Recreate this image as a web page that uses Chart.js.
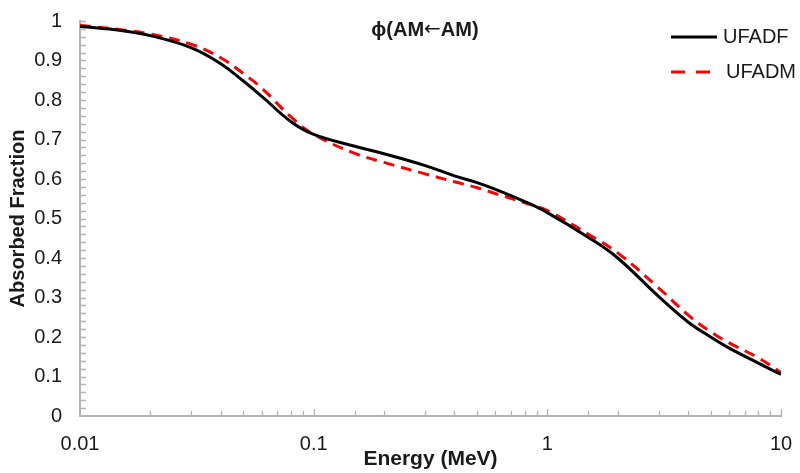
<!DOCTYPE html>
<html>
<head>
<meta charset="utf-8">
<script src="https://cdn.jsdelivr.net/npm/chart.js@4/dist/chart.umd.min.js"></script>
<style>
  html, body { margin: 0; padding: 0; background: #fff; }
  #wrap { width: 800px; height: 473px; }
</style>
</head>
<body>
<div id="wrap"><canvas id="chart"></canvas></div>
<script>
// energies (MeV) and absorbed fractions
const energies = [0.01, 0.015, 0.02, 0.03, 0.04, 0.05, 0.06, 0.08, 0.1, 0.15, 0.2, 0.3, 0.4, 0.5, 0.6, 0.8, 1, 1.5, 2, 3, 4, 5, 6, 8, 10];
const ufadf = [0.986, 0.976, 0.963, 0.932, 0.892, 0.848, 0.809, 0.745, 0.713, 0.683, 0.664, 0.634, 0.608, 0.591, 0.574, 0.543, 0.515, 0.452, 0.400, 0.302, 0.238, 0.200, 0.172, 0.134, 0.105];
const ufadm = [0.989, 0.978, 0.967, 0.941, 0.907, 0.867, 0.830, 0.757, 0.713, 0.665, 0.642, 0.613, 0.593, 0.578, 0.563, 0.540, 0.520, 0.460, 0.413, 0.324, 0.256, 0.213, 0.185, 0.147, 0.110];
const xLabels = [0.01, 0.1, 1, 10];
const titleParts = ['ϕ(AM', '←', 'AM)'];

const axisGray = '#b4b4b4';
const textColor = '#1a1a1a';
const fontFam = '"Liberation Sans", Arial, sans-serif';

const toPts = (ys) => energies.map((e, i) => ({ x: e, y: ys[i] }));

// inward tick marks + in-plot title + legend
const extras = {
  id: 'extras',
  afterDraw(chart) {
    const ctx = chart.ctx;
    const xs = chart.scales.x, ys = chart.scales.y;
    const area = chart.chartArea;
    ctx.save();
    ctx.strokeStyle = axisGray;
    ctx.lineWidth = 1.3;
    ctx.beginPath();
    xs.ticks.forEach(t => {
      if (t.value <= 0.01) return;
      const px = Math.round(xs.getPixelForValue(t.value)) + 0.5;
      const major = xLabels.includes(t.value);
      ctx.moveTo(px, area.bottom);
      ctx.lineTo(px, area.bottom - (major ? 7 : 5));
    });
    ys.ticks.forEach(t => {
      if (t.value <= 0) return;
      const py = Math.round(ys.getPixelForValue(t.value)) + 0.5;
      ctx.moveTo(area.left, py);
      ctx.lineTo(area.left + 6, py);
    });
    ctx.stroke();

    // title inside the plot (arrow in a font with a wider glyph)
    ctx.fillStyle = textColor;
    ctx.textAlign = 'left';
    ctx.textBaseline = 'middle';
    const fonts = ['bold 20px ' + fontFam, '20px "DejaVu Sans"', 'bold 20px ' + fontFam];
    const widths = titleParts.map((p, i) => { ctx.font = fonts[i]; return ctx.measureText(p).width; });
    let tx = 425 - widths.reduce((a, b) => a + b, 0) / 2;
    titleParts.forEach((p, i) => {
      ctx.font = fonts[i];
      ctx.fillText(p, tx, 30);
      tx += widths[i];
    });

    // legend
    const items = chart.data.datasets;
    const rows = [37, 72];
    ctx.font = '20px ' + fontFam;
    items.forEach((ds, i) => {
      ctx.strokeStyle = ds.borderColor;
      ctx.lineWidth = ds.borderWidth;
      ctx.setLineDash(ds.legendDash || []);
      ctx.beginPath();
      ctx.moveTo(671, rows[i]);
      ctx.lineTo(i === 0 ? 717 : 711, rows[i]);
      ctx.stroke();
      ctx.setLineDash([]);
      ctx.fillStyle = textColor;
      ctx.fillText(ds.label, i === 0 ? 723 : 726, rows[i]);
    });
    ctx.restore();
  }
};

new Chart(document.getElementById('chart'), {
  type: 'line',
  data: {
    datasets: [
      {
        label: 'UFADF',
        data: toPts(ufadf),
        borderColor: '#000000',
        borderWidth: 3,
        pointRadius: 0,
        tension: 0.4,
        fill: false
      },
      {
        label: 'UFADM',
        data: toPts(ufadm),
        borderColor: '#ff0000',
        borderWidth: 3,
        borderDash: [11, 7],
        legendDash: [14, 11],
        pointRadius: 0,
        tension: 0.4,
        fill: false
      }
    ]
  },
  options: {
    responsive: true,
    maintainAspectRatio: false,
    animation: false,
    layout: { padding: { top: 21, right: 19, left: 0, bottom: 0 } },
    plugins: {
      legend: { display: false },
      tooltip: { enabled: false }
    },
    scales: {
      x: {
        type: 'logarithmic',
        min: 0.01,
        max: 10,
        grid: { display: false },
        border: { color: axisGray, width: 2 },
        ticks: {
          autoSkip: false,
          maxRotation: 0,
          padding: 8,
          color: textColor,
          font: { family: fontFam, size: 20 },
          callback: v => xLabels.includes(v) ? String(v) : ''
        },
        title: {
          display: true,
          text: 'Energy (MeV)',
          color: textColor,
          font: { family: fontFam, size: 21, weight: 'bold' },
          padding: { top: 0, bottom: 1 }
        },
        afterFit: s => { s.height = 57; s.paddingLeft = 0; s.paddingRight = 0; }
      },
      y: {
        min: 0,
        max: 1,
        grid: { display: false },
        border: { color: axisGray, width: 2 },
        ticks: {
          stepSize: 0.02,
          autoSkip: false,
          padding: 10,
          color: textColor,
          font: { family: fontFam, size: 20 },
          callback: v => {
            const r = Math.round(v * 50);
            return r % 5 === 0 ? String(+(v.toFixed(1))) : '';
          }
        },
        title: {
          display: true,
          text: 'Absorbed Fraction',
          color: textColor,
          font: { family: fontFam, size: 20, weight: 'bold' },
          padding: { top: 6, bottom: 0 }
        },
        afterFit: s => { s.width = 80; s.paddingTop = 0; s.paddingBottom = 0; }
      }
    }
  },
  plugins: [extras]
});
</script>
</body>
</html>
